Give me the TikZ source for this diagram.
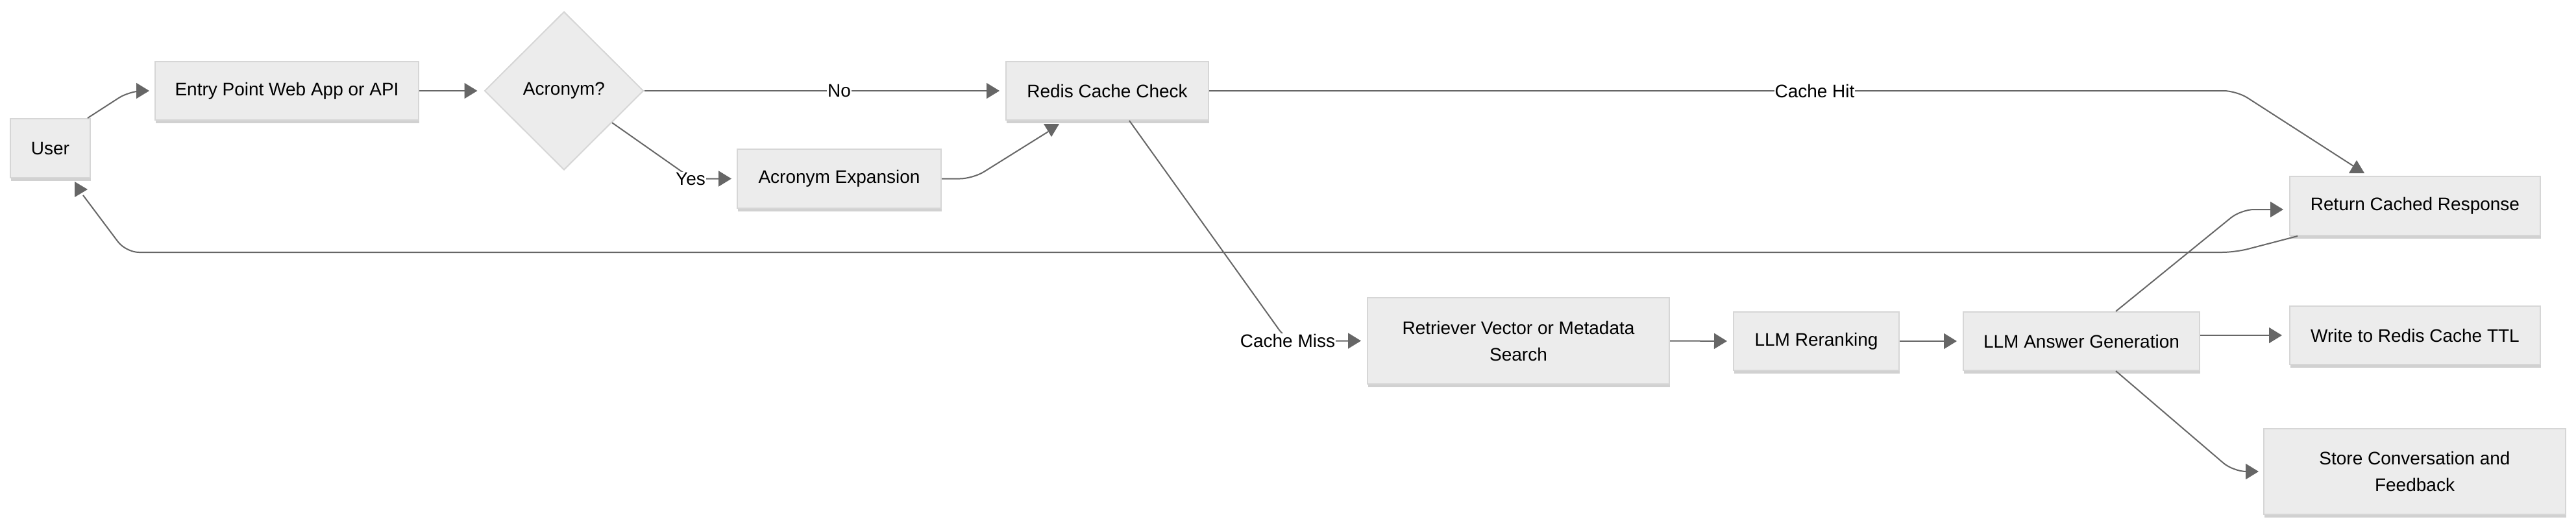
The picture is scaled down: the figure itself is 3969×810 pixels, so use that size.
\documentclass[tikz,border=0pt]{standalone}
\usepackage{fontspec}
\setmainfont{Liberation Sans}
\usetikzlibrary{arrows.meta,shapes.geometric,shadows,calc}
\definecolor{boxfill}{HTML}{ECECEC}
\definecolor{boxline}{HTML}{D6D6D6}
\definecolor{edgegray}{HTML}{666666}
\newcommand\qtip[2]{\fill[edgegray,shift={#1},rotate=#2] (0,0) -- (-20,12) -- (-20,-12) -- cycle;}
\begin{document}
\begin{tikzpicture}[x=0.5pt,y=-0.5pt,
  box/.style={draw=boxline, fill=boxfill, line width=1pt, inner sep=0pt, align=center,
    font=\fontsize{14pt}{20.5pt}\selectfont,
    drop shadow={shadow xshift=0.5pt, shadow yshift=-2.5pt, opacity=0.18, fill=black}},
  dia/.style={diamond, draw=boxline, fill=boxfill, line width=1pt, inner sep=0pt,
    minimum width=122.5pt, minimum height=122pt, font=\fontsize{14pt}{20.5pt}\selectfont},
  conn/.style={draw=edgegray, line width=1pt, rounded corners=10pt, shorten >=4.5pt,
    -{Triangle[length=10pt,width=12pt]}},
  plain/.style={draw=edgegray, line width=1pt, rounded corners=10pt},
  lbl/.style={fill=white, inner sep=0.5pt, font=\fontsize{14pt}{20.5pt}\selectfont}]
\useasboundingbox (0,0) rectangle (3969,810);
\fill[white] (0,0) rectangle (3969,810);

% nodes
\node[box, minimum width=61.5pt, minimum height=45.5pt] (user) at (77.5,228.5) {User};
\node[box, minimum width=203pt, minimum height=45pt] (entry) at (442,140) {Entry Point Web App or API};
\node[dia] (acr) at (869,140) {Acronym?};
\node[box, minimum width=156pt, minimum height=45pt] (redis) at (1706,140) {Redis Cache Check};
\node[box, minimum width=157pt, minimum height=45.5pt] (exp) at (1293,275.5) {Acronym Expansion};
\node[box, minimum width=193pt, minimum height=45.5pt] (ret) at (3721,317.5) {Return Cached Response};
\node[box, minimum width=232.5pt, minimum height=66.5pt] (retr) at (2339.5,525.5) {Retriever Vector or Metadata\\Search};
\node[box, minimum width=127.5pt, minimum height=45pt] (rerank) at (2798.5,526) {LLM Reranking};
\node[box, minimum width=182pt, minimum height=45pt] (ans) at (3207,526) {LLM Answer Generation};
\node[box, minimum width=193pt, minimum height=45pt] (write) at (3721,517) {Write to Redis Cache TTL};
\node[box, minimum width=232.5pt, minimum height=66pt] (store) at (3720.5,727) {Store Conversation and\\Feedback};

% connectors
\draw[conn, shorten >=4pt] ($(user.north east)+(-5,0)$) -- (200,140) -- (entry.west);
\draw[conn, shorten >=5pt] (entry.east) -- (acr.west);
\draw[conn] (acr.east) -- (redis.west);
\draw[conn, shorten >=4pt] ($(acr.east)!0.4!(acr.south)$) -- (1066,275.5) -- (exp.west);
\draw[plain] (exp.east) -- (1499,275.5) -- ($(redis.south)+(-91,17)$);
\qtip{(1620,211)}{-90}
\draw[plain] (redis.east) -- (3446,140) -- ($(ret.north)+(-95,-15)$);
\qtip{(3631,247)}{90}
\draw[plain] ($(ret.south west)+(13,0)$) -- (3444,389) -- (194,389) -- ($(user.south)+(50.5,26)$);
\qtip{(135,292)}{0}
\draw[conn] ($(redis.south)+(34,0)$) -- (1983,525.5) -- (retr.west);
\draw[conn] (retr.east) -- (rerank.west);
\draw[conn] (rerank.east) -- (ans.west);
\draw[conn, shorten >=5.5pt] (ans.east |- write.west) -- (write.west);
\draw[conn, shorten >=3.5pt] ($(ans.south)+(53,0)$) -- (3441,727) -- (store.west);
\draw[conn] ($(ans.north)+(53,0)$) -- (3453,323) -- ($(ret.west)+(0,5.5)$);

% labels
\node[lbl] (lno) at (1293,140) {No};
\node[lbl] (lyes) at (1064,275.5) {Yes};
\node[lbl] (lhit) at (2796,140) {Cache Hit};
\node[lbl] (lmiss) at (1984,525.5) {Cache Miss};
\end{tikzpicture}
\end{document}
